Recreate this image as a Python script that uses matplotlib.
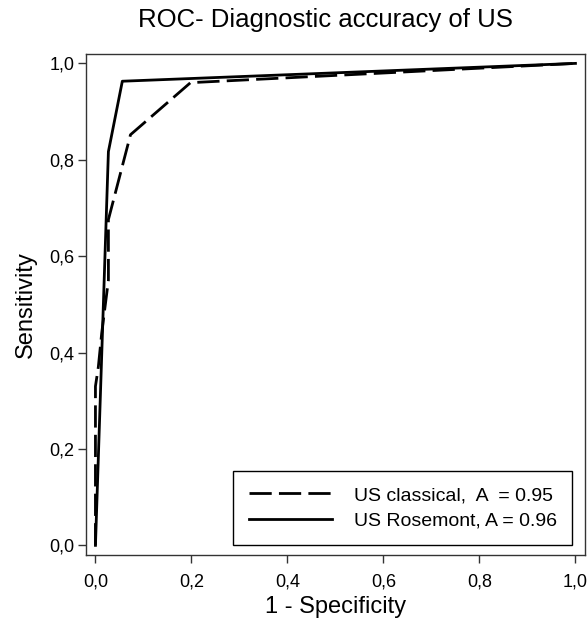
import numpy as np
import matplotlib.pyplot as plt

plt.rcParams['font.family'] = ['Liberation Sans', 'DejaVu Sans']

# ROC-Kurven
fpr_classical = [0.0, 0.0, 0.006, 0.013, 0.027, 0.027, 0.073, 0.198, 1.0]
tpr_classical = [0.0, 0.33, 0.37, 0.44, 0.55, 0.676, 0.852, 0.960, 1.0]

fpr_rosemont = [0.0, 0.027, 0.056, 1.0]
tpr_rosemont = [0.0, 0.817, 0.963, 1.0]

labels = ["US classical,  A  = 0.95", "US Rosemont, A = 0.96"]
ticks = [0.0, 0.2, 0.4, 0.6, 0.8, 1.0]

fig = plt.figure(figsize=(5.88, 6.25), dpi=100)
ax = fig.add_axes([0.146, 0.112, 0.849, 0.802])

ax.plot(fpr_classical, tpr_classical, color='black', lw=2.0,
        dashes=(8, 2.6), label=labels[0])
ax.plot(fpr_rosemont, tpr_rosemont, color='black', lw=2.0,
        label=labels[1])

ax.set_xlim(-0.02, 1.02)
ax.set_ylim(-0.02, 1.02)
ax.set_xticks(ticks)
ax.set_yticks(ticks)
ax.set_xticklabels([f"{t:.1f}".replace('.', ',') for t in ticks])
ax.set_yticklabels([f"{t:.1f}".replace('.', ',') for t in ticks])
ax.tick_params(axis='both', direction='out', length=6, width=1,
               colors='#333333', labelcolor='black', labelsize=13)
ax.tick_params(axis='x', pad=7)
ax.tick_params(axis='y', pad=2)
for s in ax.spines.values():
    s.set_color('#333333')
    s.set_linewidth(1.0)

ax.set_xlabel("1 - Specificity", fontsize=17, labelpad=4)
ax.set_ylabel("Sensitivity", fontsize=17, labelpad=9)
fig.text(0.553, 0.968, "ROC- Diagnostic accuracy of US", fontsize=18.5,
         ha='center', va='center')

leg = ax.legend(loc='lower right', bbox_to_anchor=(0.974, 0.02),
                borderaxespad=0, fontsize=14, handlelength=4.3,
                handletextpad=1.1, labelspacing=0.4, borderpad=0.8,
                fancybox=False, framealpha=1)
leg.get_frame().set_edgecolor('black')
leg.get_frame().set_linewidth(1.0)

fig.savefig("out.png", dpi=100)
